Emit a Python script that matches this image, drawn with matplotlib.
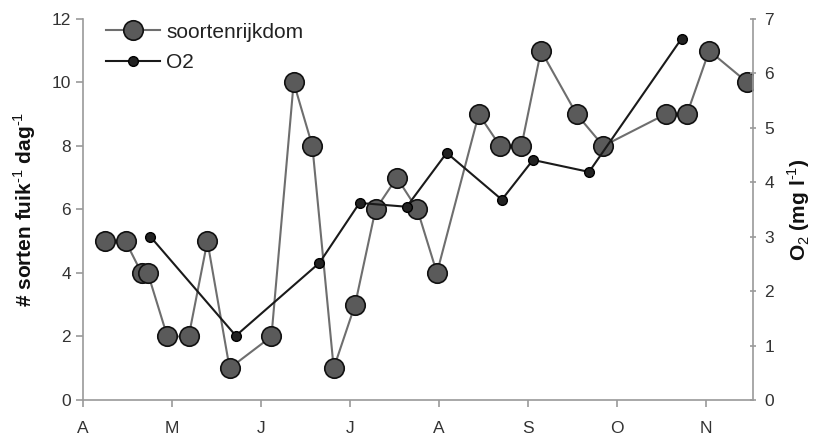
import matplotlib
matplotlib.use("Agg")
import matplotlib.pyplot as plt

plt.rcParams['font.family'] = ['Liberation Sans', 'DejaVu Sans']
plt.rcParams['mathtext.fontset'] = 'custom'
plt.rcParams['mathtext.rm'] = 'Liberation Sans'
plt.rcParams['mathtext.bf'] = 'Liberation Sans:bold'

# maanden (x in maand-eenheden, 0 = begin april)
maanden = ["A", "M", "J", "J", "A", "S", "O", "N"]

# soortenrijkdom (linker as)
x_soort = [0.25, 0.48, 0.66, 0.73, 0.95, 1.19, 1.40, 1.65, 2.12, 2.37, 2.58,
           2.82, 3.06, 3.29, 3.53, 3.76, 3.98, 4.45, 4.69, 4.93, 5.15, 5.55,
           5.85, 6.55, 6.79, 7.04, 7.47]
y_soort = [5, 5, 4, 4, 2, 2, 5, 1, 2, 10, 8, 1, 3, 6, 7, 6, 4, 9, 8, 8, 11, 9,
           8, 9, 9, 11, 10]

# O2 (rechter as)
x_o2 = [0.76, 1.72, 2.66, 3.11, 3.64, 4.09, 4.71, 5.06, 5.69, 6.73]
y_o2 = [3.0, 1.18, 2.52, 3.62, 3.55, 4.54, 3.68, 4.41, 4.19, 6.64]

grijs = '#9a9a9a'
tekst = '#333333'

fig = plt.figure(figsize=(8.2, 4.41), dpi=100)
ax = fig.add_axes([0.101, 0.093, 0.817, 0.864])
ax2 = ax.twinx()

l1, = ax.plot(x_soort, y_soort, color='#6e6e6e', lw=1.5, marker='o', ms=14,
              mfc='#5a5a5a', mec='#111111', mew=1.2, label='soortenrijkdom', zorder=3)
l2, = ax2.plot(x_o2, y_o2, color='#1a1a1a', lw=1.5, marker='o', ms=7,
               mfc='#222222', mec='#000000', label='O2', zorder=4)

ax.set_xlim(0, 7.53)
ax.set_ylim(0, 12)
ax2.set_ylim(0, 7)
ax.set_xticks(range(len(maanden)))
ax.set_xticklabels(maanden)
ax.set_yticks(range(0, 13, 2))
ax2.set_yticks(range(0, 8))

for a in (ax, ax2):
    a.spines['top'].set_visible(False)
    for s in a.spines.values():
        s.set_color(grijs)
        s.set_linewidth(1.2)
ax.spines['right'].set_visible(False)
ax2.spines['left'].set_visible(False)
ax2.spines['bottom'].set_visible(False)

ax.tick_params(axis='both', colors=grijs, labelcolor=tekst, labelsize=12.5,
               length=5, width=1.2)
ax.tick_params(axis='x', pad=10)
ax2.tick_params(axis='y', colors=grijs, labelcolor=tekst, labelsize=12.5,
                length=5, width=1.2, direction='inout', pad=6)

ax.set_ylabel('# sorten fuik$^{\\text{-1}}$ dag$^{\\text{-1}}$', fontsize=15,
              fontweight='bold', color='#111111', labelpad=10)
ax2.set_ylabel('O$_{\\text{2}}$ (mg l$^{\\text{-1}}$)', fontsize=15,
               fontweight='bold', color='#111111', labelpad=8)

leg = ax.legend(handles=[l1, l2], loc='upper left', bbox_to_anchor=(0.022, 1.012),
                frameon=False, fontsize=15, handlelength=2.6, handletextpad=0.3,
                labelspacing=0.55, borderaxespad=0)
for t in leg.get_texts():
    t.set_color('#222222')

fig.savefig('out.png', dpi=100)
